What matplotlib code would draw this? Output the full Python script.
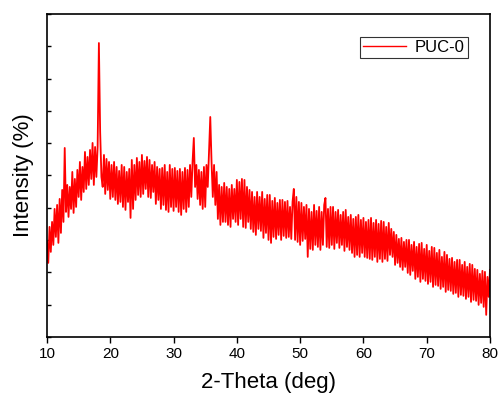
import numpy as np
import matplotlib
matplotlib.use('Agg')
import matplotlib.pyplot as plt

plt.rcParams['font.family'] = ['Liberation Sans', 'DejaVu Sans']

# 2-theta grid, 0.2 deg step, 10..80
two_theta = np.arange(10, 80.001, 0.2)

# intensity (arbitrary units), one row per degree
intensity = [
    95, 74, 110, 85, 115,      # 10
    92, 128, 100, 132, 94,     # 11
    138, 104, 147, 115, 189,   # 12
    125, 152, 120, 150, 128,   # 13
    165, 124, 158, 130, 167,   # 14
    140, 175, 137, 170, 145,   # 15
    185, 148, 180, 152, 187,   # 16
    158, 194, 152, 190, 160,   # 17
    190, 294, 205, 160, 150,   # 18
    182, 143, 178, 147, 175,   # 19
    138, 172, 140, 175, 137,   # 20
    170, 133, 166, 135, 172,   # 21
    130, 170, 127, 165, 135,   # 22
    168, 119, 177, 128, 172,   # 23
    137, 179, 142, 175, 140,   # 24
    182, 143, 176, 148, 180,   # 25
    140, 177, 139, 172, 145,   # 26
    175, 133, 170, 137, 168,   # 27
    128, 169, 132, 172, 127,   # 28
    165, 125, 172, 130, 168,   # 29
    126, 169, 130, 166, 125,   # 30
    168, 122, 165, 128, 169,   # 31
    125, 167, 130, 172, 140,   # 32
    175, 199, 150, 172, 138,   # 33
    167, 132, 165, 128, 170,   # 34
    130, 172, 150, 185, 220,   # 35
    175, 140, 172, 132, 165,   # 36
    118, 152, 112, 150, 115,   # 37
    154, 115, 150, 112, 148,   # 38
    110, 152, 118, 148, 115,   # 39
    157, 112, 155, 118, 158,   # 40
    110, 157, 109, 150, 115,   # 41
    147, 108, 145, 105, 140,   # 42
    102, 145, 108, 140, 106,   # 43
    145, 99, 138, 104, 142,    # 44
    97, 142, 94, 136, 100,     # 45
    139, 98, 134, 102, 137,    # 46
    97, 137, 101, 135, 99,     # 47
    136, 100, 130, 98, 135,    # 48
    148, 97, 140, 95, 135,     # 49
    92, 134, 96, 130, 98,      # 50
    132, 80, 128, 88, 125,     # 51
    87, 132, 92, 126, 90,      # 52
    130, 87, 125, 92, 132,     # 53
    139, 90, 128, 89, 130,     # 54
    92, 130, 88, 125, 94,      # 55
    127, 89, 122, 92, 125,     # 56
    86, 127, 90, 120, 87,      # 57
    122, 84, 118, 80, 120,     # 58
    82, 122, 80, 117, 84,      # 59
    119, 80, 115, 79, 117,     # 60
    78, 119, 77, 114, 80,      # 61
    117, 75, 113, 78, 116,     # 62
    75, 115, 78, 110, 76,      # 63
    114, 82, 108, 80, 105,     # 64
    72, 102, 74, 98, 70,       # 65
    99, 67, 95, 70, 97,        # 66
    64, 97, 62, 92, 66,        # 67
    95, 58, 90, 60, 93,        # 68
    55, 94, 58, 88, 56,        # 69
    92, 53, 86, 55, 90,        # 70
    50, 89, 52, 84, 51,        # 71
    87, 48, 80, 50, 85,        # 72
    45, 82, 47, 78, 46,        # 73
    79, 43, 75, 44, 77,        # 74
    40, 77, 42, 72, 41,        # 75
    75, 38, 70, 40, 73,        # 76
    35, 72, 37, 68, 36,        # 77
    67, 32, 63, 34, 66,        # 78
    30, 65, 22, 60, 40,        # 79
    67,                        # 80
]

fig = plt.figure(figsize=(5, 4.01), dpi=100)
ax = fig.add_axes([0.094, 0.16, 0.886, 0.805])

ax.plot(two_theta, intensity, color='#ff0000', linewidth=1.3, label='PUC-0')

ax.set_xlim(10, 80)
ax.set_ylim(0, 323)
ax.set_xticks(np.arange(10, 81, 10))
ax.set_yticks(np.arange(0, 324, 32.3))
ax.set_yticklabels([])
ax.tick_params(axis='x', direction='out', length=4, width=1, labelsize=11)
ax.tick_params(axis='y', direction='in', length=3, width=1)
for s in ax.spines.values():
    s.set_linewidth(1.2)

ax.set_xlabel('2-Theta (deg)', fontsize=16, labelpad=8)
ax.set_ylabel('Intensity (%)', fontsize=16, labelpad=6)

leg = ax.legend(loc='upper right', bbox_to_anchor=(0.95, 0.93), fontsize=12,
                frameon=True, fancybox=False, handlelength=2.6,
                borderpad=0.2, handletextpad=0.5, borderaxespad=0)
leg.get_frame().set_edgecolor('black')
leg.get_frame().set_linewidth(0.8)
for line in leg.get_lines():
    line.set_linewidth(1.0)

fig.savefig('out.png', dpi=100)
